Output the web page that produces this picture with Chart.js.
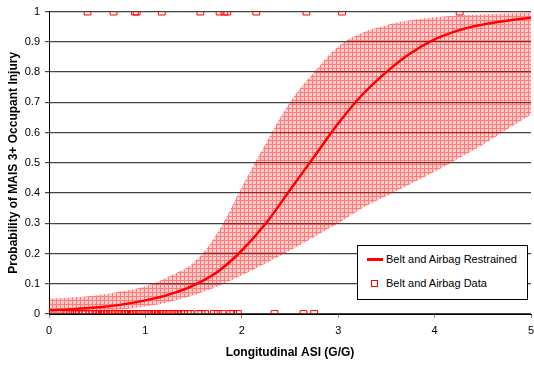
<!DOCTYPE html>
<html><head><meta charset="utf-8">
<script src="https://cdn.jsdelivr.net/npm/chart.js@4.4.0/dist/chart.umd.min.js"></script>
<style>
html,body{margin:0;padding:0;background:#fff;}
#wrap{position:relative;width:534px;height:366px;}
#legend{position:absolute;left:357px;top:245px;width:169px;height:53px;border:1px solid #000;background:#fff;font-family:"Liberation Sans",Arial,sans-serif;font-size:11px;color:#000;}
.item{position:absolute;left:28px;height:14px;line-height:14px;white-space:nowrap;}
.lsample{position:absolute;left:9px;top:12px;width:16px;height:0;border-top:3px solid #ff0000;}
.psample{position:absolute;left:13px;top:34px;width:5px;height:5px;border:1px solid #ff0000;}
</style></head>
<body>
<div id="wrap">
<canvas id="c" width="534" height="366"></canvas>
<div id="legend">
  <div class="lsample"></div><div class="item" style="top:6px">Belt and Airbag Restrained</div>
  <div class="psample"></div><div class="item" style="top:30px">Belt and Airbag Data</div>
</div>
</div>
<script>
const xGrid = [0,0.25,0.5,0.75,1,1.25,1.5,1.75,2,2.25,2.5,2.75,3,3.25,3.5,3.75,4,4.25,4.5,4.75,5];
const fitValues = [0.012,0.016,0.022,0.031,0.045,0.065,0.095,0.14,0.21,0.30,0.41,0.52,0.63,0.725,0.80,0.862,0.908,0.938,0.957,0.970,0.980];
const upperValues = [0.050,0.055,0.062,0.075,0.092,0.125,0.17,0.27,0.42,0.565,0.70,0.80,0.885,0.93,0.955,0.971,0.981,0.987,0.991,0.994,0.996];
const lowerValues = [0.003,0.005,0.009,0.015,0.025,0.04,0.062,0.092,0.128,0.168,0.21,0.255,0.30,0.35,0.39,0.43,0.47,0.515,0.56,0.61,0.66];
const injuredASI = [0.40,0.67,0.89,0.91,1.17,1.57,1.77,1.82,1.85,2.15,2.67,3.04,4.26];
const uninjuredASI = [0.18,0.22,0.27,0.31,0.35,0.38,0.42,0.45,0.48,0.50,0.53,0.56,0.58,0.61,0.64,0.66,0.69,0.72,0.75,0.78,0.80,0.83,0.86,0.88,0.91,0.94,0.97,1.00,1.03,1.06,1.09,1.11,1.14,1.17,1.19,1.22,1.25,1.28,1.31,1.34,1.37,1.40,1.44,1.47,1.55,1.58,1.62,1.71,1.75,1.80,1.88,1.91,1.96,2.34,2.64,2.75];
const yTickLabels = ['0','0.1','0.2','0.3','0.4','0.5','0.6','0.7','0.8','0.9','1'];
const xTickLabels = ['0','1','2','3','4','5'];

const pc = document.createElement('canvas'); pc.width = 4; pc.height = 4;
const g = pc.getContext('2d');
g.fillStyle = 'rgba(255,0,0,0.2)'; g.fillRect(0,0,4,4);
g.fillStyle = 'rgba(255,0,0,0.4)'; g.fillRect(0,0,4,1); g.fillRect(0,1,1,3);
const hatch = g.createPattern(pc, 'repeat');

const toPts = (vals) => xGrid.map((x,i) => ({x: x, y: vals[i]}));
const points = injuredASI.map(x => ({x: x, y: 1})).concat(uninjuredASI.map(x => ({x: x, y: 0})));
const FONT = '"Liberation Sans", Arial, sans-serif';

new Chart(document.getElementById('c'), {
  type: 'line',
  data: {
    datasets: [
      {label: 'upper', data: toPts(upperValues), fill: '+1', backgroundColor: hatch, borderColor: 'transparent', borderWidth: 0, pointRadius: 0, tension: 0.4, order: 3},
      {label: 'lower', data: toPts(lowerValues), fill: false, borderColor: 'transparent', borderWidth: 0, pointRadius: 0, tension: 0.4, order: 4},
      {label: 'Belt and Airbag Restrained', data: toPts(fitValues), fill: false, borderColor: '#ff0000', borderWidth: 2.5, pointRadius: 0, tension: 0.4, order: 1},
      {label: 'Belt and Airbag Data', data: points, showLine: false, pointStyle: 'rect', pointRadius: 4.8, pointBorderColor: '#ff0000', pointBackgroundColor: 'rgba(0,0,0,0)', pointBorderWidth: 1, borderColor: '#ff0000', order: 0}
    ]
  },
  options: {
    responsive: false, animation: false, devicePixelRatio: 1,
    layout: {autoPadding: false, padding: {top: 10, right: 3, left: 0, bottom: 0}},
    plugins: {legend: {display: false}, tooltip: {enabled: false}},
    scales: {
      x: {
        type: 'linear', min: 0, max: 5,
        ticks: {stepSize: 1, color: '#000', font: {family: FONT, size: 11}, padding: 6, maxRotation: 0,
          callback: (v, i) => xTickLabels[i]},
        grid: {drawOnChartArea: false, drawTicks: true, tickLength: 4, color: '#888'},
        border: {color: '#000', width: 1},
        title: {display: true, text: 'Longitudinal ASI (G/G)', color: '#000', font: {family: FONT, size: 12, weight: 'bold'}, padding: {top: 4, bottom: 6}},
        afterFit: (s) => { s.height = 52; s.paddingLeft = 0; s.paddingRight = 0; }
      },
      y: {
        min: 0, max: 1,
        ticks: {stepSize: 0.1, color: '#000', font: {family: FONT, size: 11}, padding: 5,
          callback: (v, i) => yTickLabels[i]},
        grid: {color: '#444', lineWidth: 1.2, tickLength: 4},
        border: {color: '#000', width: 1},
        title: {display: true, text: 'Probability of MAIS 3+ Occupant Injury', color: '#000', font: {family: FONT, size: 12, weight: 'bold'}, padding: {top: 6, bottom: 4}},
        afterFit: (s) => { s.width = 49; }
      }
    }
  }
});
</script>
</body></html>
